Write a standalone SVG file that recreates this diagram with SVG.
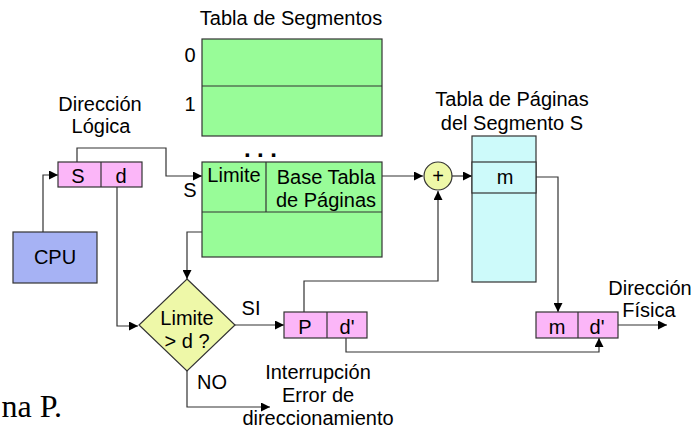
<svg xmlns="http://www.w3.org/2000/svg" width="696" height="429" viewBox="0 0 696 429">
<style>
text{font-family:"Liberation Sans",Arial,sans-serif;font-size:20px;fill:#000;text-anchor:middle}
.box{stroke:#333;stroke-width:1.2}
.green{fill:#98fc98}
.pink{fill:#fbb6f8}
.cyan{fill:#cdfafa}
.yel{fill:#eef8a8}
.cpu{fill:#a6b2f4}
.c{fill:none;stroke:#333;stroke-width:1.2}
.serif{font-family:"Liberation Serif","Times New Roman",serif;font-size:32px;text-anchor:end}
</style>
<defs>
<marker id="ah" viewBox="0 0 10 10" refX="10" refY="5" markerWidth="9" markerHeight="9" markerUnits="userSpaceOnUse" orient="auto">
<path d="M0,0L10,5L0,10z" fill="#000"/>
</marker>
</defs>
<rect width="696" height="429" fill="#fff"/>

<g id="connectors" class="c" marker-end="url(#ah)">
<path d="M43,232V175H58"/>
<path d="M77,162V148H166V176H202"/>
<path d="M117,187V326H138"/>
<path d="M231,195V232H187V279"/>
<path d="M235,325H284"/>
<path d="M187,371V407H270"/>
<path d="M304,312V281H438V191"/>
<path d="M382,176H423"/>
<path d="M452,176H472"/>
<path d="M536,177H558V312"/>
<path d="M346,338V352H599V338"/>
<path d="M618,325H667"/>
</g>

<g id="tabla-segmentos">
<text x="291" y="25">Tabla de Segmentos</text>
<rect class="box green" x="202" y="39" width="180" height="97"/>
<line class="box" x1="202" y1="86" x2="382" y2="86"/>
<text x="190" y="62">0</text>
<text x="190" y="111">1</text>
<text x="244" y="157" style="font-weight:bold;font-size:24px;text-anchor:start;letter-spacing:6.4px">...</text>
</g>

<g id="segmento-s">
<rect class="box green" x="202" y="162" width="180" height="95"/>
<line class="box" x1="202" y1="212" x2="382" y2="212"/>
<line class="box" x1="266" y1="162" x2="266" y2="212"/>
<text x="234" y="182">Limite</text>
<text x="326" y="184">Base Tabla</text>
<text x="326" y="207">de Páginas</text>
<text x="190" y="197">S</text>
</g>

<g id="direccion-logica">
<text x="100" y="111">Dirección</text>
<text x="101" y="133">Lógica</text>
<rect class="box pink" x="58" y="162" width="84" height="25"/>
<line class="box" x1="101" y1="162" x2="101" y2="187"/>
<text x="78" y="183">S</text>
<text x="121" y="183">d</text>
</g>

<g id="cpu">
<rect class="box cpu" x="13" y="232" width="84" height="51"/>
<text x="55" y="264">CPU</text>
</g>

<g id="decision">
<path class="box yel" d="M187,279L235,325L187,371L139,325Z"/>
<text x="187" y="325">Limite</text>
<text x="187" y="348">&gt; d ?</text>
<text x="251" y="315">SI</text>
<text x="212" y="389">NO</text>
</g>

<g id="pd">
<rect class="box pink" x="284" y="312" width="83" height="26"/>
<line class="box" x1="327" y1="312" x2="327" y2="338"/>
<text x="305" y="334">P</text>
<text x="347" y="334">d'</text>
</g>

<g id="suma">
<circle class="box yel" cx="438" cy="176" r="14"/>
<text x="438" y="183">+</text>
</g>

<g id="tabla-paginas">
<text x="512" y="106">Tabla de Páginas</text>
<text x="512" y="130">del Segmento S</text>
<rect class="box cyan" x="472" y="136" width="64" height="146"/>
<rect class="box cyan" x="472" y="162" width="64" height="31"/>
<text x="505" y="184">m</text>
</g>

<g id="direccion-fisica">
<rect class="box pink" x="536" y="312" width="82" height="26"/>
<line class="box" x1="578" y1="312" x2="578" y2="338"/>
<text x="557" y="334">m</text>
<text x="597" y="334">d'</text>
<text x="650" y="295">Dirección</text>
<text x="649" y="317">Física</text>
</g>

<g id="interrupcion">
<text x="318" y="379">Interrupción</text>
<text x="318" y="402">Error de</text>
<text x="318" y="425">direccionamiento</text>
</g>

<text class="serif" x="62" y="417">na P.</text>
</svg>
